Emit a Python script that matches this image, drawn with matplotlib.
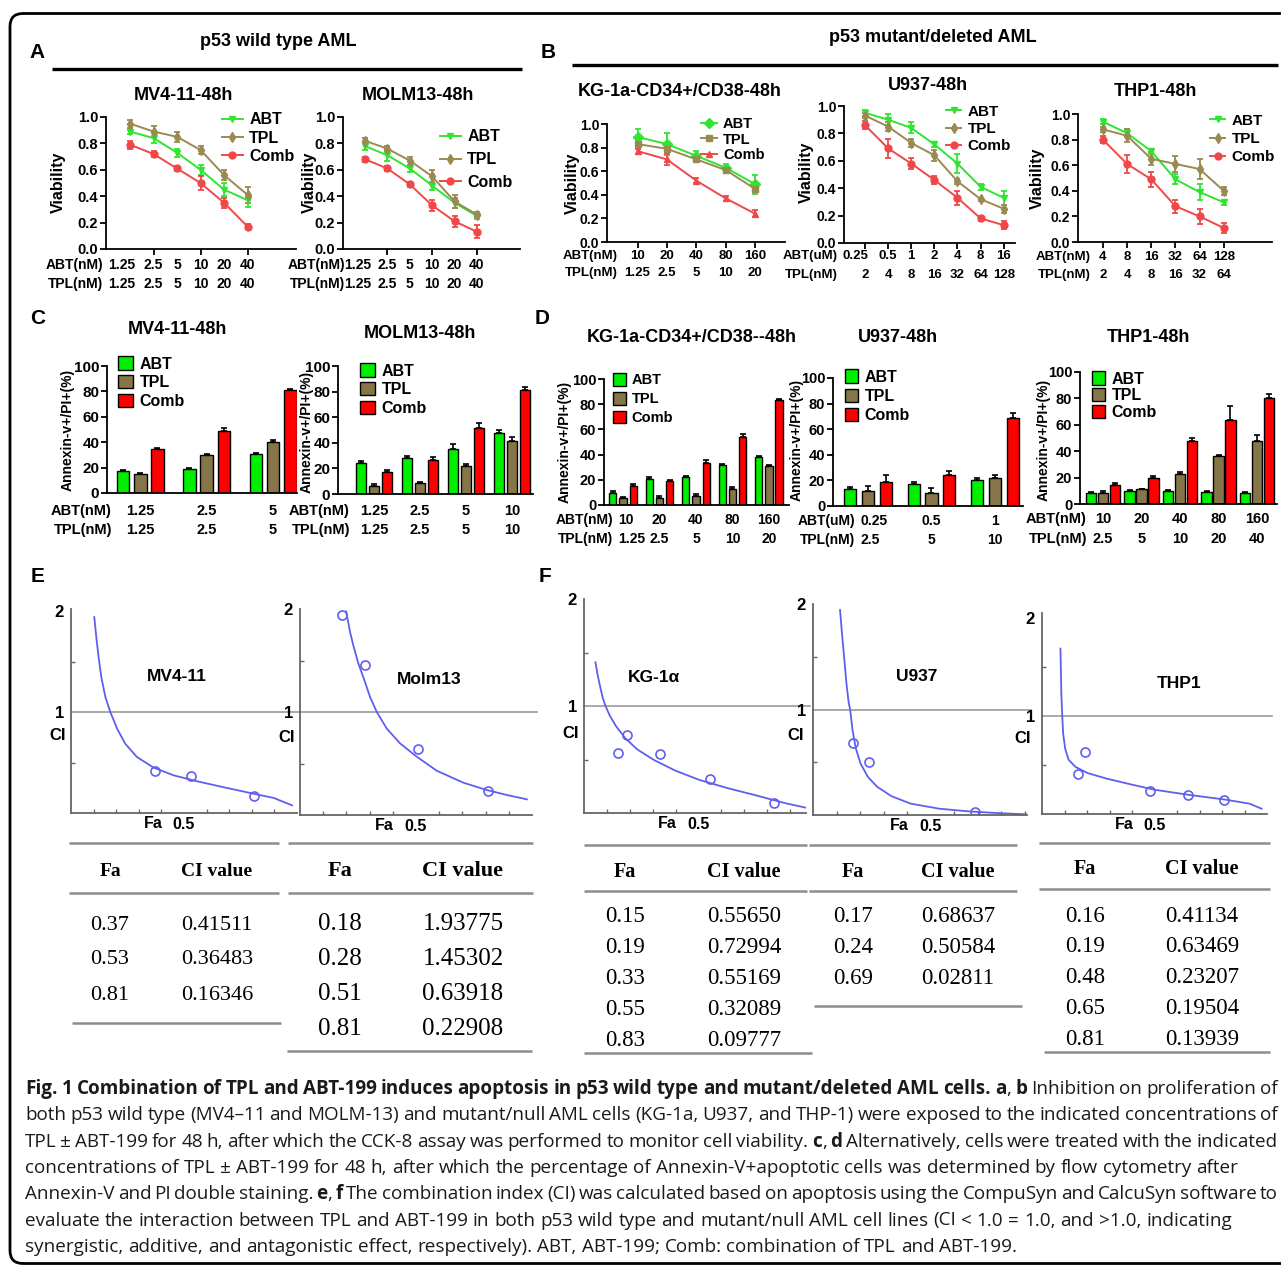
import numpy as np
import matplotlib
matplotlib.use('Agg')
import matplotlib.pyplot as plt
from matplotlib.lines import Line2D
from matplotlib.patches import Patch, FancyBboxPatch
from matplotlib import font_manager as fm

plt.rcParams['font.family'] = ['Liberation Sans', 'DejaVu Sans']

# ======================= DATA =======================
# ---- Panel A / B : viability (CCK-8) ----
mv4_abt_dose = ["1.25", "2.5", "5", "10", "20", "40"]
mv4_tpl_dose = ["1.25", "2.5", "5", "10", "20", "40"]
mv4_abt = [0.89, 0.84, 0.73, 0.60, 0.45, 0.37]
mv4_tpl = [0.95, 0.89, 0.85, 0.75, 0.56, 0.41]
mv4_comb = [0.79, 0.72, 0.61, 0.50, 0.35, 0.17]
mv4_abt_err = [0.02, 0.04, 0.03, 0.04, 0.05, 0.05]
mv4_tpl_err = [0.03, 0.04, 0.04, 0.03, 0.04, 0.06]
mv4_comb_err = [0.03, 0.02, 0.02, 0.05, 0.04, 0.02]

molm_abt_dose = ["1.25", "2.5", "5", "10", "20", "40"]
molm_tpl_dose = ["1.25", "2.5", "5", "10", "20", "40"]
molm_abt = [0.78, 0.71, 0.61, 0.48, 0.35, 0.25]
molm_tpl = [0.82, 0.76, 0.67, 0.55, 0.36, 0.26]
molm_comb = [0.68, 0.61, 0.49, 0.33, 0.21, 0.13]
molm_abt_err = [0.03, 0.04, 0.03, 0.03, 0.04, 0.02]
molm_tpl_err = [0.02, 0.02, 0.03, 0.05, 0.05, 0.02]
molm_comb_err = [0.02, 0.02, 0.02, 0.04, 0.04, 0.05]

kg_abt_dose = ["10", "20", "40", "80", "160"]
kg_tpl_dose = ["1.25", "2.5", "5", "10", "20"]
kg_abt = [0.89, 0.83, 0.73, 0.63, 0.49]
kg_tpl = [0.83, 0.79, 0.70, 0.61, 0.45]
kg_comb = [0.77, 0.70, 0.52, 0.37, 0.24]
kg_abt_err = [0.07, 0.09, 0.04, 0.03, 0.08]
kg_tpl_err = [0.03, 0.03, 0.02, 0.02, 0.03]
kg_comb_err = [0.02, 0.05, 0.02, 0.02, 0.03]

u937_abt_dose = ["0.25", "0.5", "1", "2", "4", "8", "16"]
u937_tpl_dose = ["2", "4", "8", "16", "32", "64", "128"]
u937_abt = [0.95, 0.90, 0.84, 0.72, 0.58, 0.41, 0.33]
u937_tpl = [0.93, 0.85, 0.73, 0.64, 0.45, 0.32, 0.25]
u937_comb = [0.86, 0.69, 0.58, 0.46, 0.33, 0.18, 0.13]
u937_abt_err = [0.02, 0.04, 0.04, 0.02, 0.07, 0.02, 0.05]
u937_tpl_err = [0.02, 0.03, 0.03, 0.04, 0.02, 0.01, 0.03]
u937_comb_err = [0.03, 0.07, 0.04, 0.03, 0.05, 0.02, 0.03]

thp_abt_dose = ["4", "8", "16", "32", "64", "128"]
thp_tpl_dose = ["2", "4", "8", "16", "32", "64"]
thp_abt = [0.94, 0.85, 0.71, 0.49, 0.39, 0.31]
thp_tpl = [0.88, 0.83, 0.65, 0.61, 0.57, 0.40]
thp_comb = [0.80, 0.61, 0.49, 0.28, 0.20, 0.11]
thp_abt_err = [0.02, 0.03, 0.02, 0.04, 0.06, 0.02]
thp_tpl_err = [0.02, 0.05, 0.05, 0.06, 0.08, 0.03]
thp_comb_err = [0.03, 0.07, 0.06, 0.05, 0.06, 0.04]

# ---- Panel C / D : Annexin-V+/PI+ (%) ----
c_mv4_abt_dose = ["1.25", "2.5", "5"]
c_mv4_tpl_dose = ["1.25", "2.5", "5"]
c_mv4_abt = [17.5, 18.8, 30.5]
c_mv4_tpl = [14.9, 30.0, 40.5]
c_mv4_comb = [34.5, 48.8, 81.0]
c_mv4_abt_err = [0.8, 0.8, 1.0]
c_mv4_tpl_err = [0.6, 1.0, 1.0]
c_mv4_comb_err = [1.0, 2.0, 0.8]

c_molm_abt_dose = ["1.25", "2.5", "5", "10"]
c_molm_tpl_dose = ["1.25", "2.5", "5", "10"]
c_molm_abt = [24.3, 28.2, 35.5, 47.8]
c_molm_tpl = [6.5, 8.6, 21.7, 41.3]
c_molm_comb = [17.0, 26.9, 51.7, 81.0]
c_molm_abt_err = [1.5, 1.5, 3.5, 2.5]
c_molm_tpl_err = [1.0, 1.0, 1.5, 3.0]
c_molm_comb_err = [1.5, 2.0, 3.5, 2.5]

d_kg_abt_dose = ["10", "20", "40", "80", "160"]
d_kg_tpl_dose = ["1.25", "2.5", "5", "10", "20"]
d_kg_abt = [9.8, 20.6, 22.2, 31.7, 37.8]
d_kg_tpl = [5.3, 5.8, 7.4, 13.0, 31.0]
d_kg_comb = [15.0, 19.0, 33.0, 53.7, 83.3]
d_kg_abt_err = [1.5, 1.5, 1.0, 1.0, 1.0]
d_kg_tpl_err = [1.0, 1.0, 1.5, 1.5, 1.0]
d_kg_comb_err = [2.0, 1.0, 2.5, 2.5, 1.0]

d_u937_abt_dose = ["0.25", "0.5", "1"]
d_u937_tpl_dose = ["2.5", "5", "10"]
d_u937_abt = [13.5, 17.0, 20.5]
d_u937_tpl = [12.0, 10.5, 22.0]
d_u937_comb = [18.5, 24.0, 69.0]
d_u937_abt_err = [1.0, 2.0, 1.5]
d_u937_tpl_err = [3.5, 3.5, 2.0]
d_u937_comb_err = [5.5, 3.5, 3.5]

d_thp_abt_dose = ["10", "20", "40", "80", "160"]
d_thp_tpl_dose = ["2.5", "5", "10", "20", "40"]
d_thp_abt = [8.5, 9.5, 9.5, 9.0, 8.5]
d_thp_tpl = [8.5, 11.0, 22.5, 36.5, 47.5]
d_thp_comb = [14.5, 19.5, 47.5, 63.5, 80.0]
d_thp_abt_err = [0.8, 0.8, 1.0, 0.8, 0.5]
d_thp_tpl_err = [1.0, 0.5, 1.5, 0.5, 5.0]
d_thp_comb_err = [1.5, 1.5, 2.5, 11.0, 3.0]

# ---- Panel E / F : combination index ----
e_mv4_fa = [0.37, 0.53, 0.81]
e_mv4_ci = [0.41511, 0.36483, 0.16346]
e_molm_fa = [0.18, 0.28, 0.51, 0.81]
e_molm_ci = [1.93775, 1.45302, 0.63918, 0.22908]
f_kg_fa = [0.15, 0.19, 0.33, 0.55, 0.83]
f_kg_ci = [0.55650, 0.72994, 0.55169, 0.32089, 0.09777]
f_u937_fa = [0.17, 0.24, 0.69]
f_u937_ci = [0.68637, 0.50584, 0.02811]
f_thp_fa = [0.16, 0.19, 0.48, 0.65, 0.81]
f_thp_ci = [0.41134, 0.63469, 0.23207, 0.19504, 0.13939]

# simulated Fa-CI curves
e_mv4_curve_fa = [0.103, 0.112, 0.122, 0.134, 0.152, 0.174, 0.204, 0.240, 0.292, 0.366, 0.454, 0.558, 0.690, 0.808, 0.897, 0.978]
e_mv4_curve_ci = [1.94, 1.74, 1.545, 1.347, 1.149, 1.0, 0.835, 0.686, 0.554, 0.449, 0.373, 0.314, 0.248, 0.191, 0.149, 0.076]
e_molm_curve_fa = [0.199, 0.216, 0.230, 0.252, 0.278, 0.302, 0.331, 0.374, 0.432, 0.504, 0.590, 0.705, 0.806, 0.892, 0.978]
e_molm_curve_ci = [1.977, 1.774, 1.645, 1.468, 1.306, 1.145, 1.0, 0.839, 0.694, 0.565, 0.429, 0.313, 0.242, 0.194, 0.152]
f_kg_curve_fa = [0.050, 0.060, 0.071, 0.083, 0.094, 0.112, 0.139, 0.181, 0.233, 0.306, 0.399, 0.503, 0.628, 0.753, 0.877, 0.977]
f_kg_curve_ci = [1.409, 1.285, 1.176, 1.068, 1.0, 0.913, 0.814, 0.697, 0.594, 0.495, 0.396, 0.310, 0.232, 0.164, 0.093, 0.046]
f_u937_curve_fa = [0.115, 0.123, 0.132, 0.142, 0.152, 0.158, 0.168, 0.182, 0.202, 0.233, 0.273, 0.334, 0.415, 0.536, 0.658, 0.779, 0.911]
f_u937_curve_ci = [1.943, 1.727, 1.505, 1.251, 1.060, 1.0, 0.806, 0.632, 0.489, 0.362, 0.267, 0.178, 0.108, 0.060, 0.035, 0.019, 0.006]
f_thp_curve_fa = [0.082, 0.084, 0.086, 0.090, 0.094, 0.103, 0.118, 0.149, 0.202, 0.287, 0.393, 0.499, 0.647, 0.817, 0.923, 0.976]
f_thp_curve_ci = [1.687, 1.466, 1.228, 1.0, 0.82, 0.667, 0.554, 0.480, 0.418, 0.361, 0.303, 0.248, 0.197, 0.146, 0.105, 0.054]

series_names = ["ABT", "TPL", "Comb"]

caption_lines = [
    "**Fig. 1 Combination of TPL and ABT-199 induces apoptosis in p53 wild type and mutant/deleted AML cells. a**, **b** Inhibition on proliferation of",
    "both p53 wild type (MV4\u201311 and MOLM-13) and mutant/null AML cells (KG-1a, U937, and THP-1) were exposed to the indicated concentrations of",
    "TPL \u00b1 ABT-199 for 48 h, after which the CCK-8 assay was performed to monitor cell viability. **c**, **d** Alternatively, cells were treated with the indicated",
    "concentrations of TPL \u00b1 ABT-199 for 48 h, after which the percentage of Annexin-V+apoptotic cells was determined by flow cytometry after",
    "Annexin-V and PI double staining. **e**, **f** The combination index (CI) was calculated based on apoptosis using the CompuSyn and CalcuSyn software to",
    "evaluate the interaction between TPL and ABT-199 in both p53 wild type and mutant/null AML cell lines (CI < 1.0 = 1.0, and >1.0, indicating",
    "synergistic, additive, and antagonistic effect, respectively). ABT, ABT-199; Comb: combination of TPL and ABT-199.",
]
caption_justify = [True, True, True, False, True, False, False]

# ======================= STYLE =======================
LINE_COLS = ['#2fe52f', '#9a8a52', '#f04848']
BAR_COLS = ['#00ee00', '#857548', '#ff0000']
CI_COL = '#5f5fee'

W, H = 1281, 1267
fig = plt.figure(figsize=(W / 100, H / 100), dpi=100)
fig.patch.set_facecolor('white')


def axpx(l, t, r, b):
    return fig.add_axes([l / W, 1 - b / H, (r - l) / W, (b - t) / H])


def ftext(x, y, s, **kw):
    kw.setdefault('ha', 'center')
    kw.setdefault('va', 'center')
    return fig.text(x / W, 1 - y / H, s, **kw)


def fline(x0, x1, y, lw=1.5, color='black'):
    fig.add_artist(Line2D([x0 / W, x1 / W], [1 - y / H, 1 - y / H], lw=lw, color=color,
                          transform=fig.transFigure, solid_capstyle='butt'))


def style_axes(ax):
    for s in ['top', 'right']:
        ax.spines[s].set_visible(False)
    for s in ['left', 'bottom']:
        ax.spines[s].set_linewidth(1.3)


def dose_rows(ax, box, labs_abt, labs_tpl, xs, rows_y, fs, pref, pref_right, first=None):
    hgt = box[3] - box[1]
    for row, labs in zip(rows_y, [labs_abt, labs_tpl]):
        ya = (box[3] - row) / hgt
        for i, (xi, lab) in enumerate(zip(xs, labs)):
            ha, sh = ('center', 0.0)
            if i == 0 and first is not None:
                ha, sh = first
            ax.text(xi + sh, ya, lab, transform=ax.get_xaxis_transform(), ha=ha,
                    va='center', fontsize=fs, fontweight='bold', clip_on=False)
    for row, p in zip(rows_y, pref):
        ftext(pref_right, row, p, ha='right', fontsize=fs, fontweight='bold')


def legend_at(handles, left, row0, sp, fs, **kw):
    fs_px = fs * 100 / 72
    return fig.legend(handles, series_names, loc='upper left',
                      bbox_to_anchor=(left / W, 1 - (row0 - 0.47 * fs_px) / H),
                      bbox_transform=fig.transFigure, frameon=False, borderpad=0,
                      borderaxespad=0, handletextpad=0.4,
                      labelspacing=max(0.0, (sp - 0.93 * fs_px) / fs_px),
                      prop={'weight': 'bold', 'size': fs}, **kw)


def line_panel(box, xlim, labs_abt, labs_tpl, vals, errs, markers, minor_idx,
               title, title_xy, ylab_xy, pref, pref_right, rows_y, leg,
               tick_fs=10, ytick_fs=10.5, title_fs=13, first=None, hl=1.3):
    ax = axpx(*box)
    x = np.arange(len(vals[0]))
    for v, e, c, m in zip(vals, errs, LINE_COLS, markers):
        ax.errorbar(x, v, yerr=e, color=c, marker=m, ms=5, mec=c, mfc=c, lw=1.4,
                    elinewidth=1.3, capsize=2.5, capthick=1.3, clip_on=False)
    ax.set_xlim(*xlim)
    ax.set_ylim(0, 1.0)
    style_axes(ax)
    yt = [0.0, 0.2, 0.4, 0.6, 0.8, 1.0]
    ax.set_yticks(yt)
    ax.set_yticklabels([f"{t:.1f}" for t in yt], fontweight='bold', fontsize=ytick_fs)
    ax.tick_params(axis='y', length=4, width=1.3, pad=1.5)
    ax.set_xticks(minor_idx)
    ax.set_xticklabels([])
    ax.tick_params(axis='x', length=4, width=1.3)
    dose_rows(ax, box, labs_abt, labs_tpl, x, rows_y, tick_fs, pref, pref_right, first)
    ftext(*title_xy, title, fontsize=title_fs, fontweight='bold')
    ftext(*ylab_xy, "Viability", rotation=90, fontsize=11.5, fontweight='bold')
    handles = [Line2D([], [], color=c, marker=m, ms=5, lw=1.4) for c, m in zip(LINE_COLS, markers)]
    legend_at(handles, *leg, handlelength=hl)
    return ax


def bar_panel(box, xlim, labs_abt, labs_tpl, vals, errs, off, width, title, title_xy,
              ylab_xy, pref, pref_right, rows_y, leg, tick_fs=10.5, ytick_fs=11,
              title_fs=13, ylab_fs=10, patch_w=15, first=None):
    ax = axpx(*box)
    x = np.arange(len(vals[0]))
    for k, (v, e, c) in enumerate(zip(vals, errs, BAR_COLS)):
        xp = x + (k - 1) * off
        ax.bar(xp, v, width=width, color=c, edgecolor='black', linewidth=1.0, zorder=2)
        ax.errorbar(xp, v, yerr=[np.zeros(len(v)), e], fmt='none', ecolor='black',
                    elinewidth=1.2, capsize=2.5, capthick=1.2, zorder=3, clip_on=False)
    ax.set_xlim(*xlim)
    ax.set_ylim(0, 100)
    style_axes(ax)
    yt = [0, 20, 40, 60, 80, 100]
    ax.set_yticks(yt)
    ax.set_yticklabels([str(t) for t in yt], fontweight='bold', fontsize=ytick_fs)
    ax.tick_params(axis='y', length=4, width=1.3, pad=1.5)
    ax.set_xticks([])
    dose_rows(ax, box, labs_abt, labs_tpl, x, rows_y, tick_fs, pref, pref_right, first)
    ftext(*title_xy, title, fontsize=title_fs, fontweight='bold')
    ftext(*ylab_xy, "Annexin-v+/PI+(%)", rotation=90, fontsize=ylab_fs, fontweight='bold')
    fs = leg[3]
    fs_px = fs * 100 / 72
    handles = [Patch(facecolor=c, edgecolor='black', linewidth=1.0) for c in BAR_COLS]
    legend_at(handles, *leg, handlelength=patch_w / fs_px, handleheight=14 / fs_px)
    return ax


def ci_panel(box, xlim, ylim, cfa, cci, fa, ci, name, name_xy, ci_lab_xy):
    ax = axpx(*box)
    ax.axhline(1.0, color='#9a9a9a', lw=1.2, zorder=1, clip_on=False, xmax=1.02)
    ax.plot(cfa, cci, color=CI_COL, lw=1.3, zorder=2)
    ax.plot(fa, ci, linestyle='none', marker='o', ms=6.5, mfc='none', mec=CI_COL, mew=1.2, zorder=3)
    ax.set_xlim(*xlim)
    ax.set_ylim(*ylim)
    for s in ['top', 'right']:
        ax.spines[s].set_visible(False)
    for s in ['left', 'bottom']:
        ax.spines[s].set_linewidth(1.3)
        ax.spines[s].set_color('#666666')
    ax.set_yticks([1, 2])
    ax.set_yticklabels(['1', '2'], fontweight='bold', fontsize=12)
    ax.tick_params(axis='y', which='major', length=0, pad=5)
    ax.set_yticks([0.5, 1.5], minor=True)
    ax.set_xticks([0.5])
    ax.set_xticklabels(['0.5'], fontweight='bold', fontsize=11.5)
    ax.tick_params(axis='x', which='major', length=0, pad=3)
    ax.set_xticks([0.1, 0.2, 0.3, 0.4, 0.6, 0.7, 0.8, 0.9], minor=True)
    ax.tick_params(which='minor', direction='in', length=3, width=1, color='#666666')
    ax.text(0.365, -0.015, 'Fa', transform=ax.get_xaxis_transform(), ha='center', va='top',
            fontsize=11.5, fontweight='bold')
    ax.text(name_xy[0], name_xy[1], name, ha='center', va='center', fontsize=12.5, fontweight='bold')
    ftext(*ci_lab_xy, 'CI', fontsize=12, fontweight='bold')
    return ax


def ci_table(top, header_y, hline_y, rows_y0, row_dy, bottom_y, x_top, x_bot, fa_x, ci_x,
             fa, ci, head_fs, val_fs):
    gray = '#8c8c8c'
    fline(x_top[0], x_top[1], top, lw=1.8, color=gray)
    fline(x_top[0], x_top[1], hline_y, lw=1.8, color=gray)
    fline(x_bot[0], x_bot[1], bottom_y, lw=1.8, color=gray)
    ftext(fa_x, header_y, 'Fa', fontsize=head_fs, fontweight='bold', family='Liberation Serif')
    ftext(ci_x, header_y, 'CI value', fontsize=head_fs, fontweight='bold', family='Liberation Serif')
    for i, (a, c) in enumerate(zip(fa, ci)):
        y = rows_y0 + i * row_dy
        ftext(fa_x, y, f"{a:.2f}", fontsize=val_fs, family='Liberation Serif')
        ftext(ci_x, y, f"{c:.5f}", fontsize=val_fs, family='Liberation Serif')


# ======================= FRAME & HEADERS =======================
fig.add_artist(FancyBboxPatch((0.10, 0.035), 12.85, 12.50,
                              boxstyle='round,pad=0,rounding_size=0.13',
                              transform=fig.dpi_scale_trans, fill=False, lw=2.0, ec='black'))
for lab, xy in [('A', (37, 53)), ('B', (548, 52)), ('C', (38, 318)), ('D', (542, 318)),
                ('E', (38, 577)), ('F', (545, 577))]:
    ftext(*xy, lab, fontsize=15, fontweight='bold')
ftext(278, 42, 'p53 wild type AML', fontsize=13, fontweight='bold')
fline(52, 522, 69, lw=2.4)
ftext(933, 37, 'p53 mutant/deleted AML', fontsize=13, fontweight='bold')
fline(572, 1278, 65, lw=2.4)

# ======================= PANEL A =======================
line_panel((106, 117, 296, 249), (-1.02, 7.06), mv4_abt_dose, mv4_tpl_dose,
           [mv4_abt, mv4_tpl, mv4_comb], [mv4_abt_err, mv4_tpl_err, mv4_comb_err],
           ['v', 'd', 'o'], [1, 3, 5], 'MV4-11-48h', (183, 95), (58, 182),
           ['ABT(nM)', 'TPL(nM)'], 103, (265, 284), (222, 120, 18, 11.5), first=('right', 0.22))
line_panel((343, 117, 520, 249), (-0.98, 6.92), molm_abt_dose, molm_tpl_dose,
           [molm_abt, molm_tpl, molm_comb], [molm_abt_err, molm_tpl_err, molm_comb_err],
           ['v', 'd', 'o'], [1, 3, 5], 'MOLM13-48h', (418, 96), (309, 182),
           ['ABT(nM)', 'TPL(nM)'], 345, (265, 284), (440, 137, 22.5, 11.5), first=('right', 0.3))

# ======================= PANEL B =======================
line_panel((607, 124, 785, 242), (-1.04, 5.02), kg_abt_dose, kg_tpl_dose,
           [kg_abt, kg_tpl, kg_comb], [kg_abt_err, kg_tpl_err, kg_comb_err],
           ['D', 's', '^'], [0, 1, 2, 3, 4], 'KG-1a-CD34+/CD38-48h', (680, 91), (572, 183),
           ['ABT(nM)', 'TPL(nM)'], 618, (256, 273), (701, 124, 15, 10.5), tick_fs=9.5, ytick_fs=10,
           hl=1.1)
line_panel((844, 106, 1015, 243), (-0.91, 6.49), u937_abt_dose, u937_tpl_dose,
           [u937_abt, u937_tpl, u937_comb], [u937_abt_err, u937_tpl_err, u937_comb_err],
           ['v', 'd', 'o'], [0, 1, 2, 3, 4, 5, 6], 'U937-48h', (928, 85), (806, 172),
           ['ABT(uM)', 'TPL(nM)'], 838, (256, 275), (946, 112, 17.5, 11), tick_fs=9.5, ytick_fs=10,
           first=('right', 0.15), hl=1.0)
line_panel((1078, 114, 1272, 242), (-1.03, 7.0), thp_abt_dose, thp_tpl_dose,
           [thp_abt, thp_tpl, thp_comb], [thp_abt_err, thp_tpl_err, thp_comb_err],
           ['v', 'd', 'o'], [0, 1, 2, 3, 4, 5], 'THP1-48h', (1155, 91), (1037, 178),
           ['ABT(nM)', 'TPL(nM)'], 1091, (257, 275), (1210, 121, 18.5, 11), tick_fs=9.5, ytick_fs=10,
           hl=1.0)

# ======================= PANEL C =======================
bar_panel((107, 366, 297, 493), (-0.5, 2.36), c_mv4_abt_dose, c_mv4_tpl_dose,
          [c_mv4_abt, c_mv4_tpl, c_mv4_comb], [c_mv4_abt_err, c_mv4_tpl_err, c_mv4_comb_err],
          0.26, 0.19, 'MV4-11-48h', (177, 330), (68, 430), ['ABT(nM)', 'TPL(nM)'], 112,
          (511, 530), (118, 364, 18.5, 11.5))
bar_panel((338, 366, 533, 494), (-0.78, 3.46), c_molm_abt_dose, c_molm_tpl_dose,
          [c_molm_abt, c_molm_tpl, c_molm_comb], [c_molm_abt_err, c_molm_tpl_err, c_molm_comb_err],
          0.28, 0.22, 'MOLM13-48h', (420, 333), (307, 432), ['ABT(nM)', 'TPL(nM)'], 350,
          (511, 530), (360, 371, 18.5, 11.5))

# ======================= PANEL D =======================
bar_panel((604, 379, 789, 505), (-0.52, 4.55), d_kg_abt_dose, d_kg_tpl_dose,
          [d_kg_abt, d_kg_tpl, d_kg_comb], [d_kg_abt_err, d_kg_tpl_err, d_kg_comb_err],
          0.28, 0.2, 'KG-1a-CD34+/CD38--48h', (692, 337), (565, 442), ['ABT(nM)', 'TPL(nM)'], 613,
          (520, 539), (613, 380, 18, 10.5), tick_fs=10, ytick_fs=10.5, patch_w=13,
          first=('left', -0.12))
bar_panel((833, 378, 1023, 506), (-0.55, 2.44), d_u937_abt_dose, d_u937_tpl_dose,
          [d_u937_abt, d_u937_tpl, d_u937_comb], [d_u937_abt_err, d_u937_tpl_err, d_u937_comb_err],
          0.28, 0.19, 'U937-48h', (898, 337), (797, 440), ['ABT(uM)', 'TPL(nM)'], 855,
          (521, 540), (845, 377, 19, 11.5), tick_fs=10, ytick_fs=10.5, patch_w=13,
          first=('left', -0.12))
bar_panel((1080, 372, 1277, 504), (-0.6, 4.52), d_thp_abt_dose, d_thp_tpl_dose,
          [d_thp_abt, d_thp_tpl, d_thp_comb], [d_thp_abt_err, d_thp_tpl_err, d_thp_comb_err],
          0.31, 0.27, 'THP1-48h', (1148, 337), (1044, 440), ['ABT(nM)', 'TPL(nM)'], 1087,
          (519, 539), (1092, 379, 16.5, 11.5), tick_fs=10.5, ytick_fs=10.5, patch_w=13)

# ======================= PANEL E / F =======================
ci_panel((71, 609, 297, 813), (0, 1.0), (0, 2.02), e_mv4_curve_fa, e_mv4_curve_ci,
         e_mv4_fa, e_mv4_ci, 'MV4-11', (0.47, 1.35), (58, 735))
ci_panel((300, 609, 532, 815), (0, 1.0), (0, 2.0), e_molm_curve_fa, e_molm_curve_ci,
         e_molm_fa, e_molm_ci, 'Molm13', (0.556, 1.32), (287, 737))
ci_panel((584, 599, 806, 813), (0, 0.97), (0, 1.99), f_kg_curve_fa, f_kg_curve_ci,
         f_kg_fa, f_kg_ci, 'KG-1\u03b1', (0.306, 1.27), (571, 733))
ci_panel((813, 604, 1027, 815), (0, 0.91), (0, 2.0), f_u937_curve_fa, f_u937_curve_ci,
         f_u937_fa, f_u937_ci, 'U937', (0.443, 1.31), (796, 735))
ci_panel((1042, 613, 1267, 814), (0, 1.0), (0, 2.05), f_thp_curve_fa, f_thp_curve_ci,
         f_thp_fa, f_thp_ci, 'THP1', (0.607, 1.33), (1023, 738))

# ======================= TABLES =======================
ci_table(843, 871, 893, 925, 35, 1023, (69, 279), (72, 281), 110, 217, e_mv4_fa, e_mv4_ci, 14, 16)
ci_table(843, 871, 893, 924, 35, 1051, (288, 533), (287, 532), 340, 463, e_molm_fa, e_molm_ci, 16, 18)
ci_table(845, 872, 891, 917, 30.8, 1053, (584, 807), (584, 812), 625, 744, f_kg_fa, f_kg_ci, 14.5, 16.5)
ci_table(845, 872, 891, 917, 30.8, 1006, (809, 1017), (814, 1022), 853, 958, f_u937_fa, f_u937_ci, 14.5, 16.5)
ci_table(843, 869, 889, 916, 30.8, 1052, (1039, 1270), (1044, 1270), 1085, 1202, f_thp_fa, f_thp_ci, 14.5, 16.5)

# ======================= CAPTION =======================
def font_ok(name):
    try:
        fm.findfont(fm.FontProperties(family=name), fallback_to_default=False)
        return True
    except Exception:
        return False


CAP_FONT = next((f for f in ['Open Sans', 'Lato', 'Roboto', 'Liberation Sans'] if font_ok(f)), 'DejaVu Sans')
CAP_FAMILY = [CAP_FONT, 'DejaVu Sans']
renderer = fig.canvas.get_renderer()


def parse(line):
    words, cur, buf, bold, i = [], [], '', False, 0
    while i < len(line):
        if line.startswith('**', i):
            if buf:
                cur.append((buf, bold))
                buf = ''
            bold = not bold
            i += 2
            continue
        ch = line[i]
        if ch == ' ':
            if buf:
                cur.append((buf, bold))
                buf = ''
            if cur:
                words.append(cur)
                cur = []
        else:
            buf += ch
        i += 1
    if buf:
        cur.append((buf, bold))
    if cur:
        words.append(cur)
    return words


def measure(s, bold, size):
    t = fig.text(0, 0, s, fontsize=size, fontweight='bold' if bold else 'normal', family=CAP_FAMILY)
    w = t.get_window_extent(renderer).width
    t.remove()
    return w


parsed = [parse(l) for l in caption_lines]


def natural_width(words, size):
    sp = measure('a a', False, size) - measure('aa', False, size)
    ww = [sum(measure(p, b, size) for p, b in w) for w in words]
    return sum(ww) + sp * (len(ww) - 1)


base = 10.0
cap_size = base * (1238 - 25) / natural_width(parsed[3], base)
space_w = measure('a a', False, cap_size) - measure('aa', False, cap_size)
x_left, x_right = 25, 1278
for li, (words, just) in enumerate(zip(parsed, caption_justify)):
    base_y = 1094 + li * 26.3
    widths = [[measure(p, b, cap_size) for p, b in w] for w in words]
    tot = sum(sum(w) for w in widths)
    if just and len(words) > 1:
        gap = max(space_w * 0.6, (x_right - x_left - tot) / (len(words) - 1))
    else:
        gap = space_w
    x = x_left
    for w, ws in zip(words, widths):
        for (p, b), pw in zip(w, ws):
            fig.text(x / W, 1 - base_y / H, p, fontsize=cap_size, ha='left', va='baseline',
                     fontweight='bold' if b else 'normal', family=CAP_FAMILY, color='#1a1a1a')
            x += pw
        x += gap

fig.savefig('out.png', dpi=100, facecolor='white')
